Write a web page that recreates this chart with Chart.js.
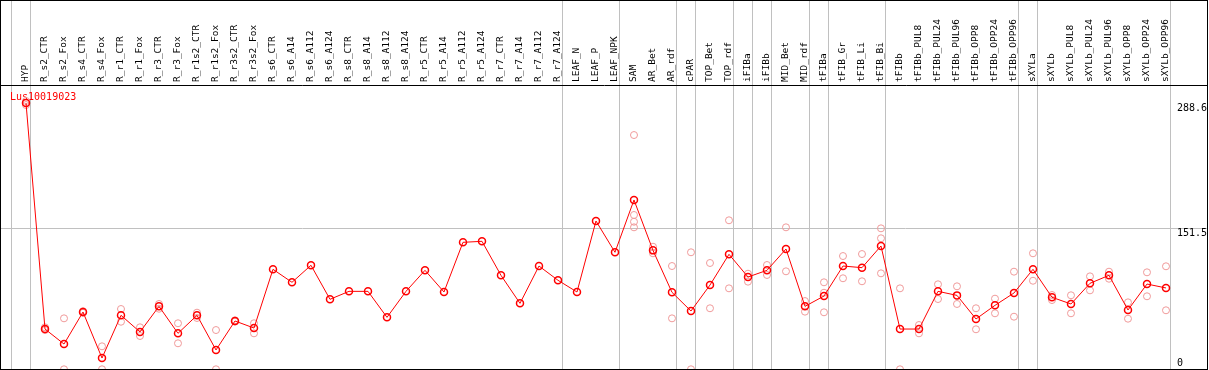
<!DOCTYPE html>
<html lang="en">
<head>
    <meta charset="UTF-8">
    <title>Lus10019023</title>
    <script src="https://cdn.jsdelivr.net/npm/chart.js"></script>
    <style>
        body {
            margin: 0;
            background: #ffffff;
        }
        .chart-box {
            position: relative;
            width: 1206px;
            height: 368px;
            border: 1px solid #000000;
        }
    </style>
</head>
<body>
    <div class="chart-box">
        <canvas id="exprChart"></canvas>
    </div>

    <script>
        const geneName = 'Lus10019023';

        const categories = [
            'HYP', 'R_s2_CTR', 'R_s2_Fox', 'R_s4_CTR', 'R_s4_Fox', 'R_r1_CTR', 'R_r1_Fox', 'R_r3_CTR', 'R_r3_Fox',
            'R_r1s2_CTR', 'R_r1s2_Fox', 'R_r3s2_CTR', 'R_r3s2_Fox', 'R_s6_CTR', 'R_s6_A14', 'R_s6_A112', 'R_s6_A124',
            'R_s8_CTR', 'R_s8_A14', 'R_s8_A112', 'R_s8_A124', 'R_r5_CTR', 'R_r5_A14', 'R_r5_A112', 'R_r5_A124',
            'R_r7_CTR', 'R_r7_A14', 'R_r7_A112', 'R_r7_A124', 'LEAF_N', 'LEAF_P', 'LEAF_NPK', 'SAM', 'AR_Bet', 'AR_rdf',
            'cPAR', 'TOP_Bet', 'TOP_rdf', 'iFIBa', 'iFIBb', 'MID_Bet', 'MID_rdf', 'tFIBa', 'tFIB_Gr', 'tFIB_Li', 'tFIB_Bi',
            'tFIBb', 'tFIBb_PUL8', 'tFIBb_PUL24', 'tFIBb_PUL96', 'tFIBb_OPP8', 'tFIBb_OPP24', 'tFIBb_OPP96',
            'sXYLa', 'sXYLb', 'sXYLb_PUL8', 'sXYLb_PUL24', 'sXYLb_PUL96', 'sXYLb_OPP8', 'sXYLb_OPP24', 'sXYLb_OPP96'
        ];

        // mean expression per sample (red line)
        const meanValues = [
            288.6, 41.5, 25.1, 60.1, 9.8, 56.5, 38.3, 66.3, 36.8, 56.5, 18.6, 50.3, 42.6,
            106.8, 92.6, 111.2, 74.0, 82.7, 82.7, 54.3, 82.7, 105.7, 82.0, 136.3, 137.4,
            100.2, 69.6, 110.4, 94.8, 82.0, 159.6, 125.4, 182.6, 127.5, 81.6,
            61.2, 89.6, 123.2, 98.4, 105.7, 129.0, 66.3, 77.6, 110.4, 108.6, 132.3,
            41.5, 41.5, 82.7, 78.3, 52.5, 67.4, 80.9,
            106.8, 76.2, 68.9, 91.5, 100.2, 62.3, 90.7, 86.4
        ];

        // replicates (light circles)
        const rep1 = [
            286.4, 43.4, 53.2, 61.0, 22.6, 63.4, 43.4, 68.9, 47.8, 59.4, 40.4, 51.0, 47.8,
            null, null, null, null, null, null, null, null, null, null, null, null,
            null, null, null, null, null, null, null, 253.6, 131.5, 110.4,
            125.4, 113.7, 160.4, 102.0, 111.5, 152.7, 72.1, 92.6, 121.3, 123.5, 151.6,
            86.0, 45.9, 90.4, 88.2, 64.2, 74.7, 104.2,
            124.3, 78.7, 78.4, 99.1, 104.2, 70.7, 103.5, 110.1
        ];
        const rep2 = [
            290.8, 40.4, -2.5, 59.2, -2.5, 49.5, 33.9, 63.7, 25.9, 53.6, -2.5, 49.6, 36.8,
            null, null, null, null, null, null, null, null, null, null, null, null,
            null, null, null, null, null, null, null, 166.2, 124.3, 53.2,
            -2.5, 64.2, 86.0, 93.3, 100.6, 104.6, 60.5, 81.2, 97.0, 93.7, 140.7,
            -2.5, 36.8, 74.3, 68.9, 41.2, 58.7, 55.0,
            94.3, 73.2, 58.7, 83.8, 96.5, 52.8, 77.3, 62.0
        ];
        const rep3 = { 'SAM': 158.8, 'tFIBa': 59.8, 'tFIB_Bi': 102.4 };
        const rep4 = { 'SAM': 152.7 };

        // grey separators drawn just right of these sample indexes
        const groupBreaks = [-1, 0, 28, 31, 34, 35, 37, 38, 39, 41, 42, 45, 52, 53, 60];
        const yTicks = [0, 151.5, 288.6];

        const mono = '"DejaVu Sans Mono", "Liberation Mono", monospace';
        const sepValues = groupBreaks.map(k => k + 0.25);
        const isSep = v => !Number.isInteger(v);

        const meanPoints = meanValues.map((v, i) => ({ x: i, y: v }));
        const repPoints = [];
        [rep1, rep2].forEach(rep => {
            rep.forEach((v, i) => { if (v !== null) repPoints.push({ x: i, y: v }); });
        });
        [rep3, rep4].forEach(rep => {
            for (const [name, v] of Object.entries(rep)) {
                repPoints.push({ x: categories.indexOf(name), y: v });
            }
        });

        // gene name in the upper left corner of the plot
        const geneLabel = {
            id: 'geneLabel',
            beforeDatasetsDraw(chart) {
                const { ctx, chartArea } = chart;
                ctx.save();
                ctx.font = '10px ' + mono;
                ctx.fillStyle = '#ff0000';
                ctx.textBaseline = 'middle';
                ctx.fillText(geneName, chartArea.left + 9, chartArea.top + 12);
                ctx.restore();
            }
        };

        const config = {
            type: 'line',
            data: {
                datasets: [
                    {
                        label: geneName,
                        data: meanPoints,
                        borderColor: '#ff0000',
                        borderWidth: 1,
                        tension: 0,
                        pointRadius: 3.5,
                        pointBorderWidth: 1.5,
                        pointBorderColor: '#ff0000',
                        pointBackgroundColor: 'rgba(0,0,0,0)',
                        order: 0
                    },
                    {
                        label: 'replicates',
                        data: repPoints,
                        showLine: false,
                        pointRadius: 3.5,
                        pointBorderWidth: 1,
                        pointBorderColor: '#f09a9a',
                        pointBackgroundColor: 'rgba(0,0,0,0)',
                        order: 1
                    }
                ]
            },
            options: {
                animation: false,
                responsive: true,
                maintainAspectRatio: false,
                layout: { autoPadding: false, padding: { top: 5 } },
                plugins: {
                    legend: { display: false },
                    tooltip: { enabled: false }
                },
                scales: {
                    x: {
                        type: 'linear',
                        position: 'top',
                        bounds: 'data',
                        min: -1.3158,
                        max: 62.158,
                        afterBuildTicks: axis => {
                            const t = categories.map((c, i) => i).concat(sepValues);
                            axis.ticks = t.sort((a, b) => a - b).map(v => ({ value: v }));
                        },
                        ticks: {
                            autoSkip: false,
                            minRotation: 90,
                            maxRotation: 90,
                            mirror: true,
                            padding: -3,
                            color: '#000000',
                            font: { family: mono, size: 9.5 },
                            callback: v => isSep(v) ? '' : categories[v]
                        },
                        grid: {
                            tickLength: 85,
                            lineWidth: 1,
                            color: ctx => (ctx.tick && isSep(ctx.tick.value)) ? '#c0c0c0' : 'rgba(0,0,0,0)'
                        },
                        border: { color: '#000000', width: 1 }
                    },
                    y: {
                        type: 'linear',
                        position: 'right',
                        bounds: 'data',
                        min: -2.19,
                        max: 308.3,
                        afterBuildTicks: axis => {
                            axis.ticks = yTicks.map(v => ({ value: v }));
                        },
                        // labels sit inside the frame, so no room is kept for them
                        afterFit: axis => {
                            axis.paddingTop = 0;
                            axis.paddingBottom = 0;
                        },
                        ticks: {
                            mirror: true,
                            padding: 0,
                            crossAlign: 'far',
                            labelOffset: 5,
                            color: '#000000',
                            font: { family: mono, size: 10, lineHeight: 1.8 },
                            // the "0" label gets an empty second line so it stays above the frame
                            callback: v => v === 0 ? ['0', ''] : v.toFixed(1)
                        },
                        grid: {
                            drawTicks: false,
                            color: ctx => (ctx.tick && ctx.tick.value === 151.5) ? '#c0c0c0' : 'rgba(0,0,0,0)'
                        },
                        border: { display: false }
                    }
                }
            },
            plugins: [geneLabel]
        };

        const exprChart = new Chart(document.getElementById('exprChart'), config);
    </script>
</body>
</html>
